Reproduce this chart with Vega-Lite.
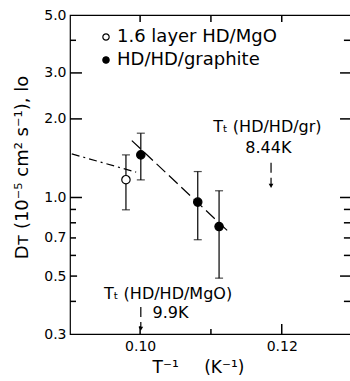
{
  "$schema": "https://vega.github.io/schema/vega-lite/v6.json",
  "width": 281,
  "height": 319,
  "autosize": "none",
  "padding": {"left": 70, "top": 15, "right": 0, "bottom": 47},
  "config": {
    "font": "DejaVu Sans",
    "view": {"stroke": "black", "strokeWidth": 1.2},
    "axis": {"domain": false, "grid": false, "ticks": false, "labelColor": "black", "titleColor": "black", "labelFont": "DejaVu Sans", "titleFont": "DejaVu Sans", "titleFontWeight": "normal", "labelFontSize": 14, "titleFontSize": 17}
  },
  "datasets": {
    "points": [
      {"x": 0.0980, "y": 1.17, "lo": 0.897, "hi": 1.456, "series": "1.6 layer HD/MgO"},
      {"x": 0.1001, "y": 1.456, "lo": 1.168, "hi": 1.763, "series": "HD/HD/graphite"},
      {"x": 0.10814, "y": 0.96, "lo": 0.689, "hi": 1.257, "series": "HD/HD/graphite"},
      {"x": 0.11115, "y": 0.774, "lo": 0.491, "hi": 1.061, "series": "HD/HD/graphite"}
    ],
    "notes": [
      {"x": 0.11798, "y": 1.868, "label": "Tₜ (HD/HD/gr)"},
      {"x": 0.11811, "y": 1.549, "label": "8.44K"},
      {"x": 0.10395, "y": 0.428, "label": "Tₜ (HD/HD/MgO)"},
      {"x": 0.1043, "y": 0.360, "label": "9.9K"}
    ],
    "arrows": [
      {"x": 0.11849, "top": 1.357, "tip": 1.108},
      {"x": 0.1001, "top": 0.381, "tip": 0.314}
    ],
    "lines": [
      {"x": 0.09035, "y": 1.469, "seg": "dash-dot"},
      {"x": 0.09944, "y": 1.25, "seg": "dash-dot"},
      {"x": 0.09883, "y": 1.652, "seg": "dashed"},
      {"x": 0.11261, "y": 0.734, "seg": "dashed"}
    ],
    "ytk": [
      {"val": 0.4, "a": 0.0901, "b": 0.09095},
      {"val": 0.5, "a": 0.0901, "b": 0.0911},
      {"val": 0.6, "a": 0.0901, "b": 0.09095},
      {"val": 0.7, "a": 0.0901, "b": 0.09095},
      {"val": 0.8, "a": 0.0901, "b": 0.09095},
      {"val": 0.9, "a": 0.0901, "b": 0.09095},
      {"val": 1, "a": 0.0901, "b": 0.09179},
      {"val": 2, "a": 0.0901, "b": 0.09179},
      {"val": 3, "a": 0.0901, "b": 0.09179},
      {"val": 4, "a": 0.0901, "b": 0.09095},
      {"val": 0.4, "a": 0.12878, "b": 0.12978},
      {"val": 0.5, "a": 0.12823, "b": 0.12978},
      {"val": 0.6, "a": 0.12878, "b": 0.12978},
      {"val": 0.7, "a": 0.12878, "b": 0.12978},
      {"val": 0.8, "a": 0.12878, "b": 0.12978},
      {"val": 0.9, "a": 0.12878, "b": 0.12978},
      {"val": 1, "a": 0.12823, "b": 0.12978},
      {"val": 2, "a": 0.12823, "b": 0.12978},
      {"val": 3, "a": 0.12823, "b": 0.12978},
      {"val": 4, "a": 0.12878, "b": 0.12978}
    ],
    "xtk": [
      {"val": 0.10, "a": 0.3, "b": 0.3216},
      {"val": 0.11, "a": 0.3, "b": 0.3133},
      {"val": 0.12, "a": 0.3, "b": 0.3276},
      {"val": 0.10, "a": 4.701, "b": 5},
      {"val": 0.11, "a": 4.701, "b": 5},
      {"val": 0.12, "a": 4.701, "b": 5}
    ]
  },
  "layer": [
    {
      "data": {"name": "ytk"},
      "mark": {"type": "rule", "stroke": "black", "strokeWidth": 1.5},
      "encoding": {
        "x": {"field": "a", "type": "quantitative", "scale": {"domain": [0.0901, 0.12978], "nice": false, "zero": false},
          "axis": {"orient": "bottom", "values": [0.1, 0.12], "format": ".2f", "labelPadding": 5, "title": "T⁻¹\u2003\u2002(K⁻¹)", "titleX": 128, "titleY": 33, "titleBaseline": "middle", "titleAlign": "center"}},
        "x2": {"field": "b"},
        "y": {"field": "val", "type": "quantitative", "scale": {"type": "log", "domain": [0.3, 5], "nice": false},
          "axis": {"orient": "left", "values": [0.3, 0.5, 0.7, 1, 2, 3, 5], "format": ".1f", "labelPadding": 4, "title": "Dᴛ (10⁻⁵ cm² s⁻¹)", "titleFontSize": 18, "titleX": -48, "titleY": 152, "titleBaseline": "middle", "titleAlign": "center"}}
      }
    },
    {
      "data": {"name": "xtk"},
      "mark": {"type": "rule", "stroke": "black", "strokeWidth": 1.5},
      "encoding": {
        "x": {"field": "val", "type": "quantitative"},
        "y": {"field": "a", "type": "quantitative"},
        "y2": {"field": "b"}
      }
    },
    {
      "data": {"name": "points"},
      "mark": {"type": "errorbar", "color": "black", "thickness": 1.2, "ticks": {"size": 8, "thickness": 1.2}},
      "encoding": {
        "x": {"field": "x", "type": "quantitative"},
        "y": {"field": "lo", "type": "quantitative"},
        "y2": {"field": "hi"}
      }
    },
    {
      "data": {"name": "lines"},
      "mark": {"type": "line", "stroke": "black", "strokeWidth": 1.2},
      "encoding": {
        "x": {"field": "x", "type": "quantitative"},
        "y": {"field": "y", "type": "quantitative"},
        "detail": {"field": "seg"},
        "strokeDash": {"field": "seg", "type": "nominal", "scale": {"domain": ["dash-dot", "dashed"], "range": [[8, 4, 2, 4], [12, 5]]}, "legend": null}
      }
    },
    {
      "data": {"name": "points"},
      "mark": {"type": "point", "shape": "circle", "filled": true, "size": 70, "stroke": "black", "strokeWidth": 1.2, "opacity": 1},
      "encoding": {
        "x": {"field": "x", "type": "quantitative"},
        "y": {"field": "y", "type": "quantitative"},
        "fill": {"field": "series", "type": "nominal", "scale": {"domain": ["1.6 layer HD/MgO", "HD/HD/graphite"], "range": ["white", "black"]},
          "legend": {"orient": "none", "legendX": 27, "legendY": 13, "title": null, "labelFontSize": 18, "labelColor": "black", "symbolType": "circle", "symbolSize": 40, "symbolStrokeColor": "black", "symbolStrokeWidth": 1.2, "rowPadding": 5, "labelOffset": 2, "padding": 0}}
      }
    },
    {
      "data": {"name": "notes"},
      "mark": {"type": "text", "fontSize": 16, "align": "center", "baseline": "middle", "fill": "black"},
      "encoding": {
        "x": {"field": "x", "type": "quantitative"},
        "y": {"field": "y", "type": "quantitative"},
        "text": {"field": "label"}
      }
    },
    {
      "data": {"name": "arrows"},
      "mark": {"type": "rule", "stroke": "black", "strokeWidth": 1.2, "strokeDash": [10, 5]},
      "encoding": {
        "x": {"field": "x", "type": "quantitative"},
        "y": {"field": "top", "type": "quantitative"},
        "y2": {"field": "tip"}
      }
    },
    {
      "data": {"name": "arrows"},
      "mark": {"type": "point", "shape": "triangle-down", "filled": true, "size": 22, "color": "black", "opacity": 1},
      "encoding": {
        "x": {"field": "x", "type": "quantitative"},
        "y": {"field": "tip", "type": "quantitative"}
      }
    }
  ]
}
